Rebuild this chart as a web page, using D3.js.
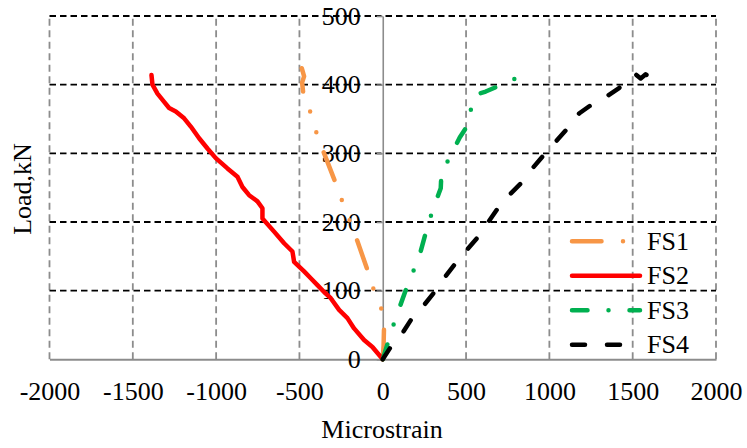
<!DOCTYPE html>
<html>
<head>
<meta charset="utf-8">
<script src="https://cdn.jsdelivr.net/npm/d3@7"></script>
<style>
  html, body { margin: 0; padding: 0; background: #fff; }
  svg { display: block; }
  svg text { font-family: "Liberation Serif", "Times New Roman", serif !important; fill: #000; }
</style>
</head>
<body>
<svg id="chart" width="747" height="448"></svg>
<script>
// ---- data (microstrain, load kN) ----
const seriesNames = ["FS1", "FS2", "FS3", "FS4"];

const fs1Strain = [0, 5, 8, -10, -60, -96, -162, -246, -288, -368, -408, -442, -476, -484, -472, -486];
const fs1Load   = [0, 20, 50, 75, 105, 133, 179, 232, 260, 310, 337, 366, 385, 403, 412, 424];

const fs2Strain = [0, -62, -112, -172, -212, -262, -312, -352, -392, -432, -472, -532, -542, -592, -652, -722, -722, -752, -802, -842, -872, -932, -1002, -1052, -1102, -1152, -1192, -1242, -1282, -1312, -1352, -1382, -1388];
const fs2Load   = [0, 18, 28, 45, 60, 72, 89, 98, 108, 118, 128, 142, 157, 169, 186, 205, 220, 230, 239, 251, 266, 278, 293, 307, 322, 339, 351, 361, 366, 375, 387, 400, 414];

const fs3Strain = [0, 28, 64, 100, 140, 180, 225, 268, 305, 348, 352, 408, 462, 518, 534, 565, 618, 714, 822, 828];
const fs3Load   = [0, 22, 50, 75, 102, 126, 155, 193, 221, 249, 271, 297, 323, 344, 373, 386, 390, 400, 412, 413];

const fs4Strain = [0, 48, 118, 168, 248, 304, 368, 428, 504, 564, 628, 688, 758, 828, 898, 968, 1038, 1108, 1178, 1248, 1338, 1418, 1498, 1518, 1548, 1578, 1590];
const fs4Load   = [0, 18, 38, 57, 79, 96, 118, 137, 159, 176, 198, 219, 239, 256, 278, 298, 317, 336, 358, 370, 382, 395, 412, 415, 409, 415, 413];

const xTicks = [-2000, -1500, -1000, -500, 0, 500, 1000, 1500, 2000];
const yTicks = [0, 100, 200, 300, 400, 500];

// ---- styles ----
const colors = { FS1: "#F79646", FS2: "#FF0000", FS3: "#00B050", FS4: "#000000" };
const dashes = { FS1: "29.5,21.5,0,21.5,0,21.5", FS2: null, FS3: "15.5,21,0,21", FS4: "13,22" };
const lineW = 4.5;
const FONT = '"Liberation Serif", "Times New Roman", serif';

const series = [
  { name: "FS1", x: fs1Strain, y: fs1Load },
  { name: "FS2", x: fs2Strain, y: fs2Load },
  { name: "FS3", x: fs3Strain, y: fs3Load },
  { name: "FS4", x: fs4Strain, y: fs4Load }
];

const svg = d3.select("#chart");
const x = d3.scaleLinear().domain([-2000, 2000]).range([49.5, 716]);
const y = d3.scaleLinear().domain([0, 500]).range([359.3, 16]);
const fmt = d => String(d);

// vertical gridlines (gray dashed)
svg.append("g").selectAll("line")
  .data(xTicks.filter(d => d !== 0))
  .join("line")
  .attr("x1", d => x(d)).attr("x2", d => x(d))
  .attr("y1", y(0)).attr("y2", y(500))
  .attr("stroke", "#8c8c8c").attr("stroke-width", 1.8)
  .attr("stroke-dasharray", "7,4.5");

// horizontal gridlines (black dashed)
svg.append("g").selectAll("line")
  .data(yTicks.filter(d => d !== 0))
  .join("line")
  .attr("x1", x(-2000)).attr("x2", x(2000))
  .attr("y1", d => y(d)).attr("y2", d => y(d))
  .attr("stroke", "#000").attr("stroke-width", 1.8)
  .attr("stroke-dasharray", "6.5,4");

// x axis at load = 0
const xAxis = svg.append("g")
  .attr("transform", `translate(0,${y(0)})`)
  .call(d3.axisBottom(x).tickValues(xTicks).tickFormat(fmt).tickSize(0).tickSizeOuter(0).tickPadding(22));
xAxis.attr("font-family", FONT).attr("font-size", 26);
xAxis.select(".domain").attr("stroke", "#8c8c8c").attr("stroke-width", 2);

// y axis at strain = 0
const yAxis = svg.append("g")
  .attr("transform", `translate(${x(0)},0)`)
  .call(d3.axisLeft(y).tickValues(yTicks).tickFormat(fmt).tickSize(6).tickSizeOuter(0).tickPadding(16));
yAxis.attr("font-family", FONT).attr("font-size", 26);
yAxis.select(".domain").attr("stroke", "#8c8c8c").attr("stroke-width", 1.6);
yAxis.selectAll(".tick line").attr("stroke", "#8c8c8c").attr("stroke-width", 1.6);

// series lines
const line = d3.line().x(d => x(d[0])).y(d => y(d[1]));
series.forEach(s => {
  const pts = s.x.map((v, i) => [v, s.y[i]]);
  svg.append("path")
    .datum(pts)
    .attr("d", line)
    .attr("fill", "none")
    .attr("stroke", colors[s.name])
    .attr("stroke-width", lineW)
    .attr("stroke-linecap", "round")
    .attr("stroke-linejoin", "round")
    .attr("stroke-dasharray", dashes[s.name]);
});

// legend
const leg = svg.append("g");
seriesNames.forEach((n, i) => {
  const cy = 241.3 + i * 34.5;
  leg.append("line")
    .attr("x1", 572).attr("x2", 640)
    .attr("y1", cy).attr("y2", cy)
    .attr("stroke", colors[n]).attr("stroke-width", lineW)
    .attr("stroke-linecap", "round")
    .attr("stroke-dasharray", dashes[n]);
  leg.append("text")
    .attr("x", 647).attr("y", cy + 8.6)
    .attr("font-family", FONT).attr("font-size", 26)
    .text(n);
});

// axis titles
svg.append("text")
  .attr("x", 382).attr("y", 438)
  .attr("text-anchor", "middle")
  .attr("font-family", FONT).attr("font-size", 26)
  .text("Microstrain");

svg.append("text")
  .attr("transform", "translate(31,189) rotate(-90)")
  .attr("text-anchor", "middle")
  .attr("font-family", FONT).attr("font-size", 26)
  .text("Load,kN");
</script>
</body>
</html>
